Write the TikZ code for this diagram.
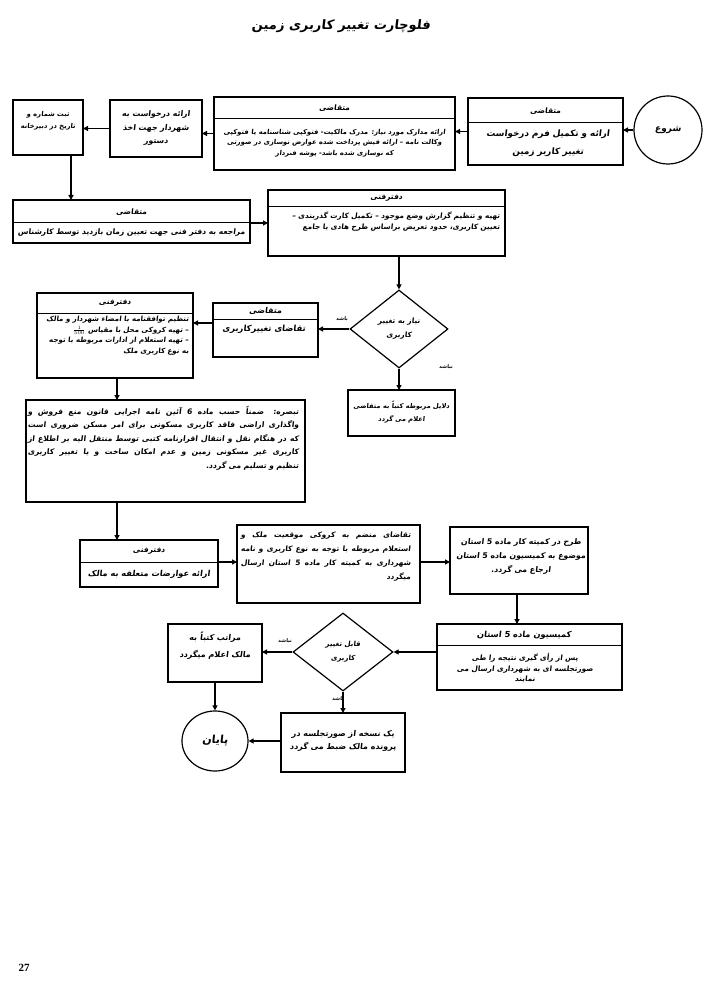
\documentclass[tikz,border=0pt]{standalone}
\usepackage{fontspec}
\usetikzlibrary{arrows.meta,shapes.geometric}
\TeXXeTstate=1
\newfontfamily\fa[Script=Arabic,FakeSlant=0.12]{DejaVu Sans}
\newfontfamily\tnr{Liberation Serif}
\newcommand\rl[1]{\beginR #1\endR}
\newcommand\jl[2]{\hbox to #1{#2}}
\newcommand\fs[2]{\fa\bfseries\fontsize{#1}{#2}\selectfont}
\newcommand\mkbox[5]{\node[box, minimum width={(#4-#2)*1pt}, minimum height={(#5-#3)*1pt}] (#1) at ({(#2+#4)/2},{(#3+#5)/2}) {};}
\newcommand\divider[2]{\draw[divl] (#1.west |- 0,#2) -- (#1.east |- 0,#2);}
\tikzset{
 box/.style={draw, line width=1.4pt, inner sep=0pt, outer sep=0pt},
 divl/.style={line width=1pt},
 arr/.style={line width=1.2pt, -{Triangle[length=5pt,width=5pt]}},
 txt/.style={font=\fs{7}{10.5}, align=center, inner sep=0pt},
 txtr/.style={txt, align=right},
 hdr/.style={font=\fs{7.5}{9}, inner sep=0pt},
 lbl/.style={font=\fs{5}{6}, inner sep=0pt},
}
\begin{document}
\begin{tikzpicture}[x=1pt,y=-1pt]
\useasboundingbox (0,0) rectangle (707,1000);
\node[font=\fs{13}{15}, inner sep=0pt] (title) at (341,26) {\rl{فلوچارت تغییر کاربری زمین}};

% start
\node[draw, circle, line width=1.2pt, minimum size=68pt, inner sep=0pt, font=\fs{9}{10}] (start) at (668,130) {\rl{شروع}};

% b1
\mkbox{b1}{468}{98}{623}{165}
\divider{b1}{123}
\node[hdr] (b1h) at (545.5,111) {\rl{متقاضی}};
\node[txt, font=\fs{8.8}{18}] (b1t) at (548,143) {\rl{ارائه و تکمیل فرم درخواست}\\\rl{تغییر کاربر زمین}};

% b2
\mkbox{b2}{214}{97}{455}{170}
\divider{b2}{119}
\node[hdr] (b2h) at (334.5,108) {\rl{متقاضی}};
\node[txt, font=\fs{6.8}{10.3}] (b2t) at (334.5,143) {\rl{ارائه مدارک مورد نیاز: مدرک مالکیت- فتوکپی شناسنامه یا فتوکپی}\\\rl{وکالت نامه – ارائه فیش پرداخت شده عوارض نوسازی در صورتی}\\\rl{که نوسازی شده باشد- پوشه فنردار}};

% b3
\mkbox{b3}{110}{100}{202}{157}
\node[txt, font=\fs{7.8}{13.5}] (b3t) at (156,128) {\rl{ارائه درخواست به}\\\rl{شهردار جهت اخذ}\\\rl{دستور}};

% b4
\mkbox{b4}{13}{100}{83}{155}
\node[txt, font=\fs{6.7}{12}] (b4t) at (48,121) {\rl{ثبت شماره و}\\\rl{تاریخ در دبیرخانه}};

% b5
\mkbox{b5}{13}{200}{250}{243}
\divider{b5}{223}
\node[hdr] (b5h) at (131.5,212) {\rl{متقاضی}};
\node[txt, font=\fs{7.6}{10}] (b5t) at (131.5,233) {\rl{مراجعه به دفتر فنی جهت تعیین زمان بازدید توسط کارشناس}};

% b6
\mkbox{b6}{268}{190}{505}{256}
\divider{b6}{207}
\node[hdr] (b6h) at (386.5,198.5) {\rl{دفترفنی}};
\node[txtr, anchor=north east, font=\fs{7.3}{10.5}] (b6t) at (500,212) {\rl{تهیه و تنظیم گزارش وضع موجود  – تکمیل کارت گذربندی –}\\\rl{تعیین کاربری، حدود تعریض براساس طرح هادی یا جامع}};

% d1
\node[draw, diamond, line width=1.2pt, minimum width=98pt, minimum height=78pt, inner sep=0pt, txt, font=\fs{7.3}{14}] (d1) at (399,329) {\rl{نیاز به تغییر}\\\rl{کاربری}};
\node[lbl] (l1) at (342,319) {\rl{باشد}};
\node[lbl] (l2) at (446,367) {\rl{نباشد}};

% b8
\mkbox{b8}{348}{390}{455}{436}
\node[txt, font=\fs{6.6}{13}] (b8t) at (401.5,412) {\rl{دلایل مربوطه کتباً به متقاضی}\\\rl{اعلام می گردد}};

% b7
\mkbox{b7}{213}{303}{318}{357}
\divider{b7}{319}
\node[hdr, font=\fs{8}{9}] (b7h) at (265.5,311) {\rl{متقاضی}};
\node[txt, font=\fs{8.4}{10}] (b7t) at (264,329) {\rl{تقاضای تغییرکاربری}};

% b9
\mkbox{b9}{37}{293}{193}{378}
\divider{b9}{313}
\node[hdr] (b9h) at (115,303) {\rl{دفترفنی}};
\node[txtr, anchor=north east, font=\fs{7.1}{10.6}] (b9t) at (189,316) {\rl{تنظیم توافقنامه با امضاء شهردار و مالک}\\\rl{– تهیه کروکی محل با مقیاس \hbox{\fontsize{6}{6}\selectfont$\frac{1}{500}$}}\\\rl{– تهیه استعلام از ادارات مربوطه با توجه}\\\rl{به نوع کاربری ملک}};

% b10
\mkbox{b10}{26}{400}{305}{502}
\node[txtr, anchor=north east, font=\fs{7.6}{13.5}] (b10t) at (299,406) {\jl{271pt}{\beginR تبصره: ضمناً حسب ماده 6 آئین نامه اجرایی قانون منع فروش و\endR}\\\jl{271pt}{\beginR واگذاری اراضی فاقد کاربری مسکونی برای امر مسکن ضروری است\endR}\\\jl{271pt}{\beginR که در هنگام نقل و انتقال اقرارنامه کتبی توسط منتقل الیه بر اطلاع از\endR}\\\jl{271pt}{\beginR کاربری غیر مسکونی زمین و عدم امکان ساخت و یا تغییر کاربری\endR}\\\rl{تنظیم و تسلیم می گردد.}};

% b11
\mkbox{b11}{80}{540}{218}{587}
\divider{b11}{562}
\node[hdr] (b11h) at (149,551) {\rl{دفترفنی}};
\node[txt, font=\fs{8.2}{10}] (b11t) at (149,574) {\rl{ارائه عوارضات متعلقه به مالک}};

% b12
\mkbox{b12}{237}{525}{420}{603}
\node[txtr, anchor=north east, font=\fs{7.4}{14}] (b12t) at (411,532) {\jl{170pt}{\beginR تقاضای منضم به کروکی موقعیت ملک و\endR}\\\jl{170pt}{\beginR استعلام مربوطه با توجه به نوع کاربری و نامه\endR}\\\jl{170pt}{\beginR شهرداری به کمیته کار ماده 5 استان ارسال\endR}\\\rl{میگردد}};

% b13
\mkbox{b13}{450}{527}{588}{594}
\node[txt, font=\fs{7.8}{14}] (b13t) at (521,556) {\rl{طرح در کمیته کار ماده 5 استان}\\\rl{موضوع به کمیسیون ماده 5 استان}\\\rl{ارجاع می گردد.}};

% b14
\mkbox{b14}{437}{624}{622}{690}
\divider{b14}{645}
\node[hdr, font=\fs{8.3}{9}] (b14h) at (524,635) {\rl{کمیسیون  ماده 5 استان}};
\node[txt, font=\fs{7.3}{10.5}] (b14t) at (525,668) {\rl{پس از رأی گیری نتیجه را طی}\\\rl{صورتجلسه ای به شهرداری ارسال می}\\\rl{نمایند}};

% d2
\node[draw, diamond, line width=1.2pt, minimum width=100pt, minimum height=78pt, inner sep=0pt, txt, font=\fs{7}{14}] (d2) at (343,652) {\rl{قابل تغییر}\\\rl{کاربری}};
\node[lbl] (l3) at (285,641) {\rl{نباشد}};
\node[lbl] (l4) at (338,699) {\rl{باشد}};

% b15
\mkbox{b15}{168}{624}{262}{682}
\node[txt, font=\fs{8}{17}] (b15t) at (215,646) {\rl{مراتب کتباً به}\\\rl{مالک اعلام میگردد}};

% b16
\mkbox{b16}{281}{713}{405}{772}
\node[txt, font=\fs{8}{13}] (b16t) at (343,741) {\rl{یک نسخه از صورتجلسه در}\\\rl{پرونده مالک ضبط می گردد}};

% end
\node[draw, ellipse, line width=1.2pt, minimum width=66pt, minimum height=60pt, inner sep=0pt, font=\fs{11}{12}] (endn) at (215,741) {\rl{پایان}};

% page number
\node[font=\tnr\bfseries\fontsize{11}{12}\selectfont, inner sep=0pt] (pg) at (24,968) {27};

% connectors
\coordinate (x45) at (71,0);
\coordinate (x9) at (117,0);
\coordinate (x13) at (517,0);
\draw[arr] (start.west) -- (start.west -| b1.east);
\draw[arr] (b1.west) -- (b1.west -| b2.east);
\draw[arr] (b2.west) -- (b2.west -| b3.east);
\draw[arr] (b3.west) -- (b3.west -| b4.east);
\draw[arr] (b4.south -| x45) -- (b5.north -| x45);
\draw[arr] (b5.east |- 0,223) -- (b6.west |- 0,223);
\draw[arr] (b6.south -| d1.north) -- (d1.north);
\draw[arr] (d1.west) -- (d1.west -| b7.east);
\draw[arr] (d1.south) -- (d1.south |- b8.north);
\draw[arr] (b7.west |- 0,323) -- (b9.east |- 0,323);
\draw[arr] (b9.south -| x9) -- (b10.north -| x9);
\draw[arr] (b10.south -| x9) -- (b11.north -| x9);
\draw[arr] (b11.east |- 0,562) -- (b12.west |- 0,562);
\draw[arr] (b12.east |- 0,562) -- (b13.west |- 0,562);
\draw[arr] (b13.south -| x13) -- (b14.north -| x13);
\draw[arr] (b14.west |- d2.east) -- (d2.east);
\draw[arr] (d2.west) -- (d2.west -| b15.east);
\draw[arr] (d2.south) -- (d2.south |- b16.north);
\draw[arr] (b15.south -| endn.north) -- (endn.north);
\draw[arr] (b16.west |- endn.east) -- (endn.east);
\end{tikzpicture}
\end{document}
